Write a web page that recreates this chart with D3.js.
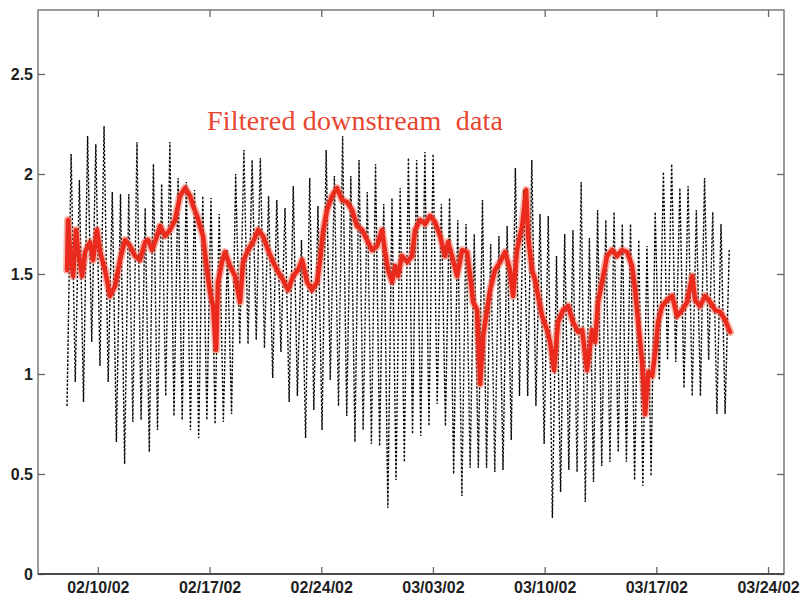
<!DOCTYPE html>
<html>
<head>
<meta charset="utf-8">
<script src="https://cdn.jsdelivr.net/npm/d3@7/dist/d3.min.js"></script>
<style>
  html, body { margin: 0; padding: 0; background: #ffffff; }
  svg { display: block; }
</style>
</head>
<body>
<svg id="chart" width="802" height="596"></svg>
<script>
// ---------------- DATA ----------------
const xTickLabels = ["02/10/02", "02/17/02", "02/24/02", "03/03/02", "03/10/02", "03/17/02", "03/24/02"];
const yTickValues = [0, 0.5, 1, 1.5, 2, 2.5];
const titleText = "Filtered downstream  data";

// Raw downstream stage (dotted, tidal): alternating low / high per tidal cycle
const tideStartDay = -1.93;      // days relative to 02/10/02 of first low
const tidePeriodDays = 0.5155;   // tidal cycle length (days)
const tideLow = [0.84, 0.96, 0.86, 1.16, 1.04, 0.96, 0.66, 0.55, 0.76, 0.77,
                 0.61, 0.72, 0.89, 0.79, 0.77, 0.72, 0.68, 0.77, 0.75, 0.76,
                 0.80, 1.15, 1.15, 1.17, 1.13, 0.98, 1.11, 0.86, 0.89, 0.68,
                 0.82, 0.72, 0.97, 0.84, 0.79, 0.66, 0.72, 0.65, 0.64, 0.33,
                 0.47, 0.56, 0.70, 0.69, 0.74, 0.85, 0.74, 0.50, 0.39, 0.53,
                 0.53, 0.53, 0.51, 0.52, 0.67, 0.89, 0.89, 0.84, 0.65, 0.28,
                 0.41, 0.52, 0.51, 0.36, 0.46, 0.54, 0.56, 0.61, 0.56, 0.47,
                 0.44, 0.49, 0.97, 1.07, 1.06, 0.93, 0.89, 0.89, 1.07, 0.80,
                 0.80];
const tideHigh = [2.10, 1.97, 2.19, 2.15, 2.24, 1.91, 1.90, 1.90, 2.16, 1.83,
                  2.05, 1.95, 2.16, 1.98, 1.96, 1.92, 1.89, 1.88, 1.80, 1.62,
                  2.00, 2.12, 2.07, 2.08, 1.89, 1.87, 1.83, 1.94, 1.67, 1.98,
                  1.84, 2.12, 1.99, 2.19, 1.99, 2.07, 1.91, 2.05, 1.85, 1.88,
                  1.93, 2.08, 2.07, 2.11, 2.10, 1.85, 1.88, 1.77, 1.75, 1.70,
                  1.87, 1.65, 1.69, 1.74, 2.03, 1.92, 2.07, 1.80, 1.79, 1.59,
                  1.70, 1.72, 1.96, 1.68, 1.82, 1.77, 1.81, 1.75, 1.75, 1.67,
                  1.64, 1.81, 2.01, 2.05, 1.93, 1.94, 1.82, 1.98, 1.81, 1.75,
                  1.62];

// Filtered downstream data (red): day relative to 02/10/02, value
const filteredDay = [-1.93, -1.87, -1.74, -1.55, -1.37, -1.24, -0.99, -0.80, -0.49, -0.30,
  -0.05, 0.14, 0.45, 0.76, 1.08, 1.39, 1.70, 2.02, 2.33, 2.64,
  2.96, 3.15, 3.40, 3.71, 3.90, 4.21, 4.52, 4.84, 5.15, 5.47,
  5.78, 5.97, 6.22, 6.40, 6.59, 6.84, 7.03, 7.22, 7.41, 7.53,
  7.78, 7.97, 8.28, 8.60, 8.91, 9.10, 9.41, 9.73, 10.04, 10.35,
  10.67, 10.98, 11.30, 11.61, 11.92, 12.24, 12.55, 12.80, 13.11, 13.42,
  13.74, 13.93, 14.11, 14.36, 14.68, 14.99, 15.30, 15.62, 15.93, 16.24,
  16.56, 16.87, 17.18, 17.50, 17.81, 18.00, 18.19, 18.44, 18.63, 18.81,
  19.06, 19.38, 19.69, 19.88, 20.19, 20.51, 20.82, 21.13, 21.45, 21.76,
  21.95, 22.26, 22.51, 22.83, 23.14, 23.33, 23.52, 23.77, 23.96, 24.14,
  24.39, 24.58, 24.89, 25.21, 25.52, 25.83, 26.02, 26.27, 26.59, 26.84,
  26.96, 27.21, 27.40, 27.59, 27.84, 28.15, 28.34, 28.59, 28.84, 29.16,
  29.47, 29.78, 30.10, 30.35, 30.66, 30.97, 31.16, 31.35, 31.60, 31.91,
  32.23, 32.54, 32.85, 33.17, 33.48, 33.67, 33.86, 34.11, 34.30, 34.49,
  34.74, 34.93, 35.11, 35.36, 35.68, 35.99, 36.30, 36.62, 36.93, 37.25,
  37.43, 37.74, 38.06, 38.37, 38.68, 39.00, 39.31, 39.62];
const filteredValue = [1.52, 1.77, 1.62, 1.49, 1.72, 1.62, 1.49, 1.61, 1.66, 1.57,
  1.72, 1.61, 1.52, 1.39, 1.44, 1.57, 1.67, 1.64, 1.59, 1.57,
  1.66, 1.67, 1.62, 1.69, 1.74, 1.69, 1.72, 1.77, 1.89, 1.93,
  1.89, 1.84, 1.79, 1.74, 1.69, 1.52, 1.41, 1.34, 1.12, 1.46,
  1.56, 1.61, 1.54, 1.49, 1.36, 1.56, 1.62, 1.66, 1.72, 1.69,
  1.62, 1.56, 1.51, 1.47, 1.42, 1.49, 1.52, 1.57, 1.46, 1.42,
  1.46, 1.57, 1.71, 1.82, 1.89, 1.93, 1.87, 1.86, 1.82, 1.74,
  1.72, 1.67, 1.62, 1.64, 1.72, 1.61, 1.52, 1.46, 1.54, 1.49,
  1.59, 1.56, 1.59, 1.72, 1.77, 1.75, 1.79, 1.76, 1.69, 1.59,
  1.66, 1.57, 1.49, 1.62, 1.61, 1.49, 1.36, 1.32, 0.95, 1.19,
  1.32, 1.42, 1.52, 1.56, 1.61, 1.52, 1.39, 1.62, 1.74, 1.92,
  1.69, 1.52, 1.47, 1.39, 1.29, 1.22, 1.16, 1.02, 1.26, 1.32,
  1.34, 1.26, 1.21, 1.22, 1.02, 1.22, 1.16, 1.36, 1.46, 1.59,
  1.62, 1.59, 1.62, 1.61, 1.54, 1.42, 1.26, 1.06, 0.80, 1.01,
  0.99, 1.11, 1.26, 1.34, 1.37, 1.39, 1.29, 1.32, 1.36, 1.49,
  1.37, 1.34, 1.39, 1.36, 1.32, 1.31, 1.27, 1.21];

// ---------------- CHART ----------------
const svg = d3.select("#chart");
const W = 802, H = 596;
const mLeft = 38, mRight = 784, mTop = 10, mBottom = 574;
const DAY = 86400000;
const refDate = Date.UTC(2002, 1, 10);
const toDate = d => new Date(refDate + d * DAY);
const parse = d3.utcParse("%m/%d/%y");

const x = d3.scaleUtc()
  .domain([new Date(Date.UTC(2002, 1, 6, 6)), new Date(Date.UTC(2002, 2, 25))])
  .range([mLeft, mRight]);
const y = d3.scaleLinear().domain([0, 2.82]).range([mBottom, mTop]);

svg.append("rect").attr("width", W).attr("height", H).attr("fill", "#ffffff");

// tidal series
const tide = [];
tideLow.forEach((lo, i) => {
  tide.push({ t: toDate(tideStartDay + i * tidePeriodDays), v: lo });
  tide.push({ t: toDate(tideStartDay + (i + 0.5) * tidePeriodDays), v: tideHigh[i] });
});
const line = d3.line().x(d => x(d.t)).y(d => y(d.v));
svg.append("path")
  .datum(tide)
  .attr("d", line)
  .attr("fill", "none")
  .attr("stroke", "#0a0a0a")
  .attr("stroke-width", 1.4)
  .attr("stroke-dasharray", "2.4,1.6");

// filtered series (soft halo + core, like the original's thick fuzzy trace)
const filtered = filteredDay.map((d, i) => ({ t: toDate(d), v: filteredValue[i] }));
svg.append("path")
  .datum(filtered)
  .attr("d", line)
  .attr("fill", "none")
  .attr("stroke", "#f0604a")
  .attr("stroke-width", 8)
  .attr("stroke-linejoin", "round")
  .attr("stroke-linecap", "round")
  .attr("opacity", 0.45);
svg.append("path")
  .datum(filtered)
  .attr("d", line)
  .attr("fill", "none")
  .attr("stroke", "#ea2a1c")
  .attr("stroke-width", 4.5)
  .attr("stroke-linejoin", "round")
  .attr("stroke-linecap", "round");

// title
svg.append("text")
  .attr("x", 207).attr("y", 130)
  .attr("xml:space", "preserve")
  .style("white-space", "pre")
  .attr("font-family", "'Liberation Serif', 'Times New Roman', serif")
  .attr("font-size", 28)
  .attr("fill", "#e8452f")
  .attr("textLength", 296)
  .attr("lengthAdjust", "spacing")
  .text(titleText);

// axes
const fontFam = "'Liberation Sans', Arial, sans-serif";
const xTicks = xTickLabels.map(s => parse(s));

const gx = svg.append("g").attr("transform", `translate(0,${mBottom})`)
  .call(d3.axisBottom(x).tickValues(xTicks).tickFormat(d3.utcFormat("%m/%d/%y"))
    .tickSize(-7).tickPadding(8));
const gxt = svg.append("g").attr("transform", `translate(0,${mTop})`)
  .call(d3.axisTop(x).tickValues(xTicks).tickFormat("").tickSize(-7));
const gy = svg.append("g").attr("transform", `translate(${mLeft},0)`)
  .call(d3.axisLeft(y).tickValues(yTickValues).tickFormat(d3.format("")).tickSize(-7).tickPadding(5));
const gyr = svg.append("g").attr("transform", `translate(${mRight},0)`)
  .call(d3.axisRight(y).tickValues(yTickValues).tickFormat("").tickSize(-7));

[gx, gxt, gy, gyr].forEach(g => {
  g.select(".domain").remove();
  g.selectAll(".tick line").attr("stroke", "#666666").attr("stroke-width", 1.3);
  g.selectAll(".tick text")
    .attr("font-family", fontFam)
    .attr("font-size", 16)
    .attr("font-weight", "bold")
    .attr("fill", "#1e1e1e");
});

// frame
svg.append("rect")
  .attr("x", mLeft).attr("y", mTop)
  .attr("width", mRight - mLeft).attr("height", mBottom - mTop)
  .attr("fill", "none").attr("stroke", "#666666").attr("stroke-width", 1.3);
svg.append("line")
  .attr("x1", mLeft).attr("x2", mRight).attr("y1", mBottom).attr("y2", mBottom)
  .attr("stroke", "#4a4a4a").attr("stroke-width", 2.2);
</script>
</body>
</html>
